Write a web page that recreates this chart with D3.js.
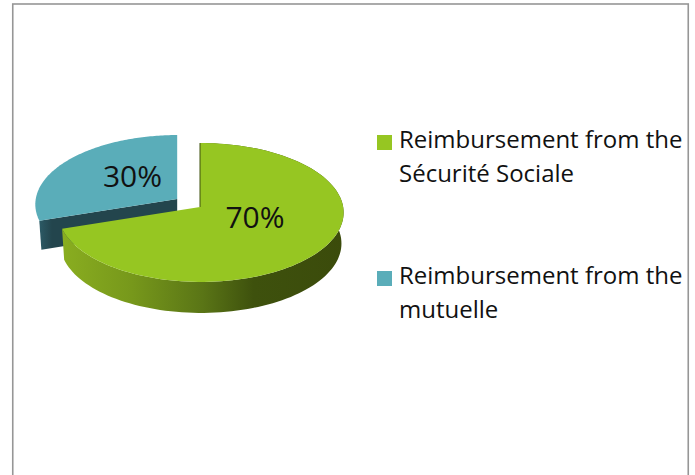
<!DOCTYPE html>
<html>
<head>
<meta charset="utf-8">
<script src="https://cdn.jsdelivr.net/npm/d3@7"></script>
<style>
  html, body { margin: 0; padding: 0; background: #fff; }
  text { font-family: "Open Sans", sans-serif; fill: #111; }
</style>
</head>
<body>
<div id="chart"></div>
<script>
// Data
const categories = ["Reimbursement from the Sécurité Sociale", "Reimbursement from the mutuelle"];
const shares = [70, 30];
const legendLines = [["Reimbursement from the", "Sécurité Sociale"], ["Reimbursement from the", "mutuelle"]];
const topColors = ["#96c622", "#5aadb9"];

const width = 695;
const height = 475;

// Pie geometry
const center = {x: 200, y: 207};
const radiusX = 142.3;
const radiusY = 69;
const perspective = 0.079;
const sideways = -0.006;
const depths = [31, 29];
const bottomShrink = 0.985;
const explode = [0, 0.2];

const svg = d3.select("#chart")
    .append("svg")
    .attr("width", width)
    .attr("height", height)
    .style("display", "block");

// Frame, runs off the bottom of the page
svg.append("rect")
    .attr("x", 12.75)
    .attr("y", 4)
    .attr("width", 675.5)
    .attr("height", 500)
    .attr("fill", "#fff")
    .attr("stroke", "#969696")
    .attr("stroke-width", 1.6);

const defs = svg.append("defs");

// Side of the green slice gets darker from left to right
const greenWall = defs.append("linearGradient")
    .attr("id", "greenWall")
    .attr("gradientUnits", "userSpaceOnUse")
    .attr("x1", 60).attr("x2", 345).attr("y1", 0).attr("y2", 0);
[[0, "#8aae20"], [0.25, "#77981b"], [0.5, "#5a7516"], [0.68, "#3e510d"], [1, "#3b4b0b"]]
    .forEach(s => greenWall.append("stop").attr("offset", s[0]).attr("stop-color", s[1]));

const tealWall = defs.append("linearGradient")
    .attr("id", "tealWall")
    .attr("gradientUnits", "userSpaceOnUse")
    .attr("x1", 38).attr("x2", 52).attr("y1", 0).attr("y2", 0);
[[0, "#2d5c68"], [1, "#23454d"]]
    .forEach(s => tealWall.append("stop").attr("offset", s[0]).attr("stop-color", s[1]));

const xScale = d3.scaleLinear().domain([-1, 1]).range([center.x - radiusX, center.x + radiusX]);
const yScale = d3.scaleLinear().domain([-1, 1]).range([center.y - radiusY, center.y + radiusY]);

// Tilted disc with a bit of perspective: the near half is drawn bigger than the far half
function project(angle, r) {
    const depthFactor = 1 + perspective * r * Math.cos(angle) + sideways * r * Math.sin(angle);
    return [
        r * Math.sin(angle) / depthFactor,
        -r * Math.cos(angle) / depthFactor
    ];
}

const pieData = d3.pie().sort(null)(shares);
const line = d3.line();

function rimPoints(d) {
    const steps = d3.range(0, 121).map(i => d.startAngle + (d.endAngle - d.startAngle) * i / 120);
    return steps.map(a => project(a, 1));
}

const slices = pieData.map((d, i) => {
    const mid = (d.startAngle + d.endAngle) / 2;
    const off = project(mid, explode[i]);
    const place = p => [xScale(p[0] + off[0]), yScale(p[1] + off[1])];
    return {
        top: rimPoints(d).map(place),
        apex: place([0, 0]),
        depth: depths[i],
        color: topColors[i]
    };
});

// Lower rim: same outline pushed down and pulled in a little towards the apex
function drop(points, slice) {
    return points.map(p => [slice.apex[0] + (p[0] - slice.apex[0]) * bottomShrink, p[1] + slice.depth]);
}

function wall(points, slice) {
    return line(points.concat(drop(points, slice).reverse())) + "Z";
}

const green = slices[0];
const teal = slices[1];

// Teal slice first, the green one sits in front of it
svg.append("path")
    .attr("d", wall([teal.apex, teal.top[0]], teal))
    .attr("fill", "url(#tealWall)");

svg.append("path")
    .attr("d", line([teal.apex].concat(teal.top)) + "Z")
    .attr("fill", teal.color);

svg.append("path")
    .attr("d", wall(green.top, green))
    .attr("fill", "url(#greenWall)");

svg.append("path")
    .attr("d", line([green.apex].concat(green.top)) + "Z")
    .attr("fill", green.color);

// Cut edge of the green slice, seen almost edge-on
svg.append("path")
    .attr("d", line([green.top[0], green.apex]))
    .attr("stroke", "#3e510d")
    .attr("stroke-width", 1)
    .attr("fill", "none");

// Data labels
const labelPos = [[255, 228], [132.5, 187]];
svg.selectAll(".label")
    .data(shares)
    .enter()
    .append("text")
    .attr("class", "label")
    .attr("x", (d, i) => labelPos[i][0])
    .attr("y", (d, i) => labelPos[i][1])
    .attr("text-anchor", "middle")
    .style("font-size", "30px")
    .text(d => d + "%");

// Legend
const legendY = [148, 284];
const legend = svg.selectAll(".legend")
    .data(categories)
    .enter()
    .append("g")
    .attr("class", "legend")
    .attr("transform", (d, i) => `translate(377, ${legendY[i]})`);

legend.append("rect")
    .attr("x", 0)
    .attr("y", -13)
    .attr("width", 15)
    .attr("height", 15)
    .attr("fill", (d, i) => topColors[i]);

legend.each(function(d, i) {
    d3.select(this).selectAll("text")
        .data(legendLines[i])
        .enter()
        .append("text")
        .attr("x", 22)
        .attr("y", (t, j) => j * 33.5)
        .style("font-size", "24px")
        .text(t => t);
});
</script>
</body>
</html>
